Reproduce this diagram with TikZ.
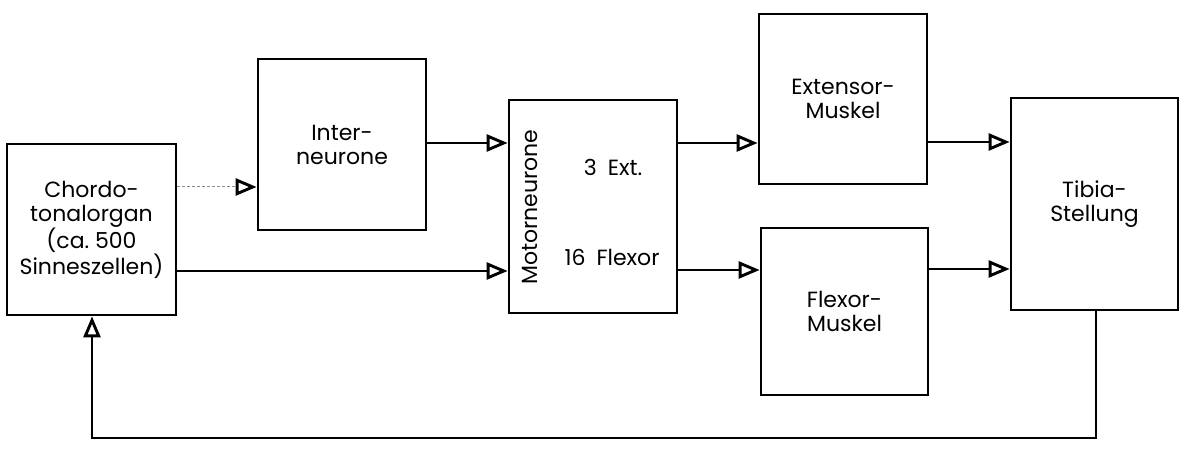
\documentclass[tikz,border=0pt]{standalone}
\usepackage{fontspec}
\setmainfont{Poppins}
\usetikzlibrary{arrows.meta}
\begin{document}
\begin{tikzpicture}[x=1pt,y=-1pt,
  blk/.style={draw,line width=2.8pt,minimum width=#1,inner sep=0pt,align=center,
    font=\fontsize{22}{24}\selectfont},
  conn/.style={line width=1.4pt,-{Triangle[open,length=21pt,width=17pt,line width=2.9pt,color=black]}},
  faint/.style={conn,draw=black!45,line width=1pt,densely dashed},
  lbl/.style={font=\fontsize{22}{24}\selectfont,inner sep=0pt}]
\useasboundingbox (0,0) rectangle (1192,462);
\node[blk=169pt,minimum height=171pt] (chordo) at (91.5,229.5) {Chordo-\\tonalorgan\\(ca.\ 500\\Sinneszellen)};
\node[blk=168pt,minimum height=171pt] (inter) at (342,144.5) {Inter-\\neurone};
\node[blk=168pt,minimum height=213pt] (motor) at (593,206.5) {};
\node[lbl,rotate=90] (motorlbl) at (530,207) {Motorneurone};
\node[lbl] (ext3) at (613,167) {3\enspace Ext.};
\node[lbl] (flex16) at (612,257) {16\enspace Flexor};
\node[blk=168pt,minimum height=170pt] (ext) at (843,99) {Extensor-\\Muskel};
\node[blk=167pt,minimum height=167pt] (flex) at (844.5,311.5) {Flexor-\\Muskel};
\node[blk=167pt,minimum height=212pt] (tibia) at (1094.5,204) {Tibia-\\Stellung};
\coordinate (fbR) at (1096,438);
\coordinate (fbL) at (92,438);
\draw[faint] (chordo.east |- 0,187) -- (inter.west |- 0,187);
\draw[conn] (chordo.east |- 0,271) -- (motor.west |- 0,271);
\draw[conn] (inter.east |- 0,143) -- (motor.west |- 0,143);
\draw[conn] (motor.east |- 0,143) -- (ext.west |- 0,143);
\draw[conn] (motor.east |- 0,270) -- (flex.west |- 0,270);
\draw[conn] (ext.east |- 0,142) -- (tibia.west |- 0,142);
\draw[conn] (flex.east |- 0,269) -- (tibia.west |- 0,269);
\draw[conn] (tibia.south -| fbR) -- (fbR) -- (fbL) -- (chordo.south -| fbL);
\end{tikzpicture}
\end{document}
